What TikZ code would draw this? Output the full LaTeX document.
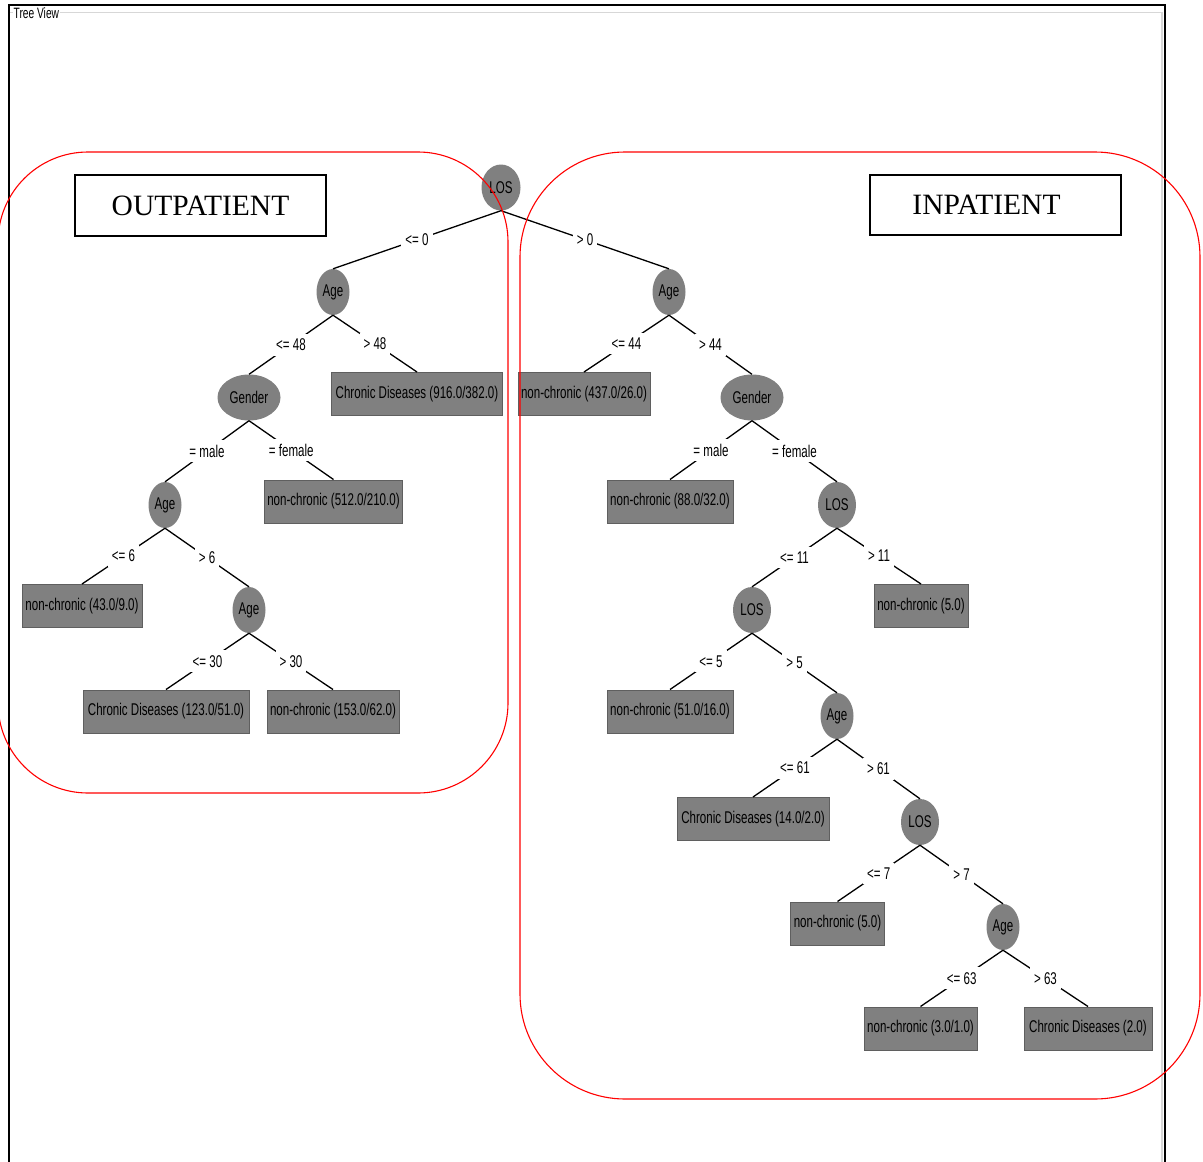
\documentclass[tikz,border=0pt]{standalone}
\usepackage{fontspec}
\setmainfont{Liberation Serif}
\newfontfamily\wekafont[FakeStretch=0.68]{Liberation Sans}
\usetikzlibrary{shapes.geometric}
\definecolor{wgray}{RGB}{128,128,128}
\definecolor{wedge}{RGB}{95,95,95}
\definecolor{framegray}{RGB}{215,215,215}
\tikzset{
  wtext/.style={font=\wekafont\fontsize{17}{17}\selectfont},
  inner/.style={ellipse, fill=wgray, inner sep=0pt, minimum height=46pt, wtext},
  leaf/.style={rectangle, fill=wgray, draw=wedge, line width=1pt, minimum height=43pt, inner xsep=3pt, wtext},
  lbl/.style={fill=white, inner xsep=4pt, inner ysep=5pt, wtext},
  edge/.style={draw=black, line width=1.3pt},
  titlebox/.style={draw=black, line width=2pt, fill=white, font=\fontsize{29.5}{29.5}\selectfont},
  region/.style={draw=red, line width=1.1pt}
}
\begin{document}
\begin{tikzpicture}[x=1pt,y=-1pt]
\path[use as bounding box] (0,0) rectangle (1203,1162);
\clip (0,0) rectangle (1203,1162);
% window frame
\draw[framegray, line width=1.5pt] (10,12.5) -- (13,12.5);
\draw[framegray, line width=1.5pt] (60,12.5) -- (1162,12.5) -- (1162,1170);
\draw[black, line width=2.2pt] (9,1170) -- (9,5) -- (1165,5) -- (1165,1170);
\node[anchor=west, inner sep=0pt, font=\wekafont\fontsize{15}{15}\selectfont] (tv) at (13.5,13.5) {Tree View};

% title boxes
\node[titlebox, minimum width=251pt, minimum height=61pt] (outbox) at (200.5,205.5) {OUTPATIENT};
\node[titlebox, minimum width=251pt, minimum height=60pt] (inbox) at (995.5,205) {\hspace*{-18pt}INPATIENT};

% inner nodes
\node[inner, minimum width=39pt] (root) at (501,187.5) {LOS};
\node[inner, minimum width=33pt] (a1) at (333,292) {Age};
\node[inner, minimum width=63pt] (g1) at (249,397.5) {Gender};
\node[inner, minimum width=33pt] (a2) at (165,505) {Age};
\node[inner, minimum width=33pt] (a3) at (249,610) {Age};
\node[inner, minimum width=33pt] (b1) at (669,292) {Age};
\node[inner, minimum width=63pt] (b2) at (752,397.5) {Gender};
\node[inner, minimum width=38pt] (b3) at (837,505) {LOS};
\node[inner, minimum width=38pt] (b4) at (752,610) {LOS};
\node[inner, minimum width=33pt] (b5) at (837,716) {Age};
\node[inner, minimum width=38pt] (b6) at (920,822) {LOS};
\node[inner, minimum width=33pt] (b7) at (1003,927) {Age};

% leaves
\node[leaf, minimum width=171pt] (l1) at (417,394) {Chronic Diseases (916.0/382.0)};
\node[leaf, minimum width=138pt] (l2) at (333.5,501.5) {non-chronic (512.0/210.0)};
\node[leaf, minimum width=120pt] (l3) at (82,606) {non-chronic (43.0/9.0)};
\node[leaf, minimum width=166pt] (l4) at (166,711.5) {Chronic Diseases (123.0/51.0)};
\node[leaf, minimum width=132pt] (l5) at (333,711.5) {non-chronic (153.0/62.0)};
\node[leaf, minimum width=132pt] (r1) at (584,394) {non-chronic (437.0/26.0)};
\node[leaf, minimum width=126pt] (r2) at (670,501.5) {non-chronic (88.0/32.0)};
\node[leaf, minimum width=94pt] (r3) at (921,606) {non-chronic (5.0)};
\node[leaf, minimum width=126pt] (r4) at (670,711.5) {non-chronic (51.0/16.0)};
\node[leaf, minimum width=152pt] (r5) at (753,819) {Chronic Diseases (14.0/2.0)};
\node[leaf, minimum width=93pt] (r6) at (837.5,923.5) {non-chronic (5.0)};
\node[leaf, minimum width=113pt] (r7) at (920.5,1028.5) {non-chronic (3.0/1.0)};
\node[leaf, minimum width=128pt] (r8) at (1088,1028.5) {Chronic Diseases (2.0)};

% edges
\draw[edge] (root.south) -- node[lbl] {<= 0} (a1.north);
\draw[edge] (root.south) -- node[lbl] {> 0} (b1.north);
\draw[edge] (a1.south) -- node[lbl] {<= 48} (g1.north);
\draw[edge] (a1.south) -- node[lbl] {> 48} (l1.north);
\draw[edge] (g1.south) -- node[lbl] {= male} (a2.north);
\draw[edge] (g1.south) -- node[lbl] {= female} (l2.north);
\draw[edge] (a2.south) -- node[lbl] {<= 6} (l3.north);
\draw[edge] (a2.south) -- node[lbl] {> 6} (a3.north);
\draw[edge] (a3.south) -- node[lbl] {<= 30} (l4.north);
\draw[edge] (a3.south) -- node[lbl] {> 30} (l5.north);
\draw[edge] (b1.south) -- node[lbl] {<= 44} (r1.north);
\draw[edge] (b1.south) -- node[lbl] {> 44} (b2.north);
\draw[edge] (b2.south) -- node[lbl] {= male} (r2.north);
\draw[edge] (b2.south) -- node[lbl] {= female} (b3.north);
\draw[edge] (b3.south) -- node[lbl] {<= 11} (b4.north);
\draw[edge] (b3.south) -- node[lbl] {> 11} (r3.north);
\draw[edge] (b4.south) -- node[lbl] {<= 5} (r4.north);
\draw[edge] (b4.south) -- node[lbl] {> 5} (b5.north);
\draw[edge] (b5.south) -- node[lbl] {<= 61} (r5.north);
\draw[edge] (b5.south) -- node[lbl] {> 61} (b6.north);
\draw[edge] (b6.south) -- node[lbl] {<= 7} (r6.north);
\draw[edge] (b6.south) -- node[lbl] {> 7} (b7.north);
\draw[edge] (b7.south) -- node[lbl] {<= 63} (r7.north);
\draw[edge] (b7.south) -- node[lbl] {> 63} (r8.north);

% red regions
\draw[region, rounded corners=90pt] (-2,152) rectangle (508,793);
\draw[region, rounded corners=105pt] (520,152) rectangle (1200,1099);
\end{tikzpicture}
\end{document}
